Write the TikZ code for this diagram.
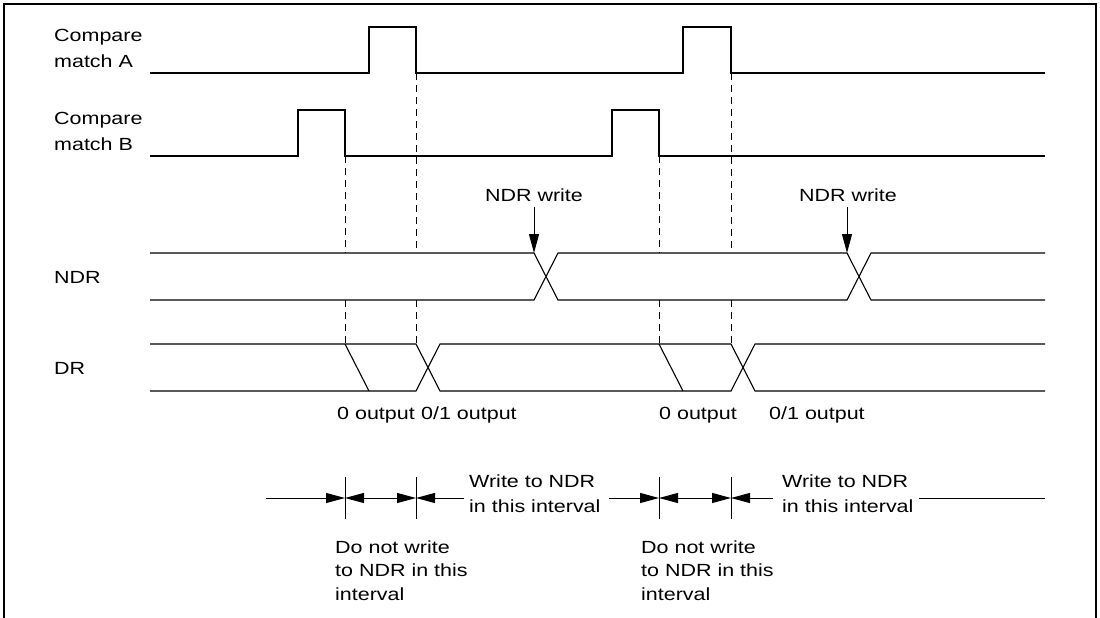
\documentclass[tikz,border=0pt]{standalone}
\usepackage{fontspec}
\setmainfont{Liberation Sans}[FakeStretch=1.22]
\usetikzlibrary{arrows.meta}
\begin{document}
\begin{tikzpicture}[x=1pt,y=-1pt,
  sig/.style={line width=1.1pt, line join=miter},
  dashln/.style={line width=1pt, dash pattern=on 7pt off 5pt},
  lbl/.style={font=\fontsize{17.6}{26}\selectfont, inner sep=0pt, align=left},
  tip/.style={-{Triangle[length=19pt,width=10pt]}, line width=1pt},
  both/.style={{Triangle[length=19pt,width=10pt]}-{Triangle[length=19pt,width=10pt]}, line width=1pt},
  tick/.style={line width=1pt}]
\useasboundingbox (0,0) rectangle (1100,618);
% frame
\draw[line width=2pt] (4,625) -- (4,4) -- (1096,4) -- (1096,625);
% labels (base anchor = baseline of last line)
\node[lbl,anchor=base west] (lA) at (54,67) {Compare\\match A};
\node[lbl,anchor=base west] (lB) at (54,150) {Compare\\match B};
\node[lbl,anchor=base west] (lN) at (54,283) {NDR};
\node[lbl,anchor=base west] (lD) at (54,374) {DR};
% compare match A
\draw[sig] (150,73) -- (369,73) -- (369,27) -- (416,27) -- (416,73) -- (683,73) -- (683,27) -- (731,27) -- (731,73) -- (1045,73);
% compare match B
\draw[sig] (150,156) -- (298,156) -- (298,110) -- (345,110) -- (345,156) -- (612,156) -- (612,110) -- (659,110) -- (659,156) -- (1045,156);
% NDR
\draw[sig] (150,253) -- (534,253) -- (558,300) -- (847,300) -- (871,253) -- (1045,253);
\draw[sig] (150,300) -- (534,300) -- (558,253) -- (847,253) -- (871,300) -- (1045,300);
% DR
\draw[sig] (150,344) -- (416,344) -- (440,391) -- (731,391) -- (755,344) -- (1045,344);
\draw[sig] (150,391) -- (416,391) -- (440,344) -- (731,344) -- (755,391) -- (1045,391);
\draw[sig] (345,344) -- (369,391);
\draw[sig] (659,344) -- (683,391);
% dashed guides
\foreach \x/\y in {345/156,416/73,659/156,731/73}{
  \draw[dashln] (\x,\y) -- (\x,253);
  \draw[dashln] (\x,300) -- (\x,344);
}
% NDR write
\node[lbl,anchor=base] (nw1) at (534,201) {NDR write};
\node[lbl,anchor=base] (nw2) at (848,201) {NDR write};
\coordinate (n1) at (534,253);
\coordinate (n2) at (847,253);
\draw[tip] (nw1.south -| n1) ++(0,6) -- (n1);
\draw[tip] (nw2.south -| n2) ++(0,6) -- (n2);
% output labels
\node[lbl,anchor=base west] (o1) at (337,419) {0 output};
\node[lbl,anchor=base west] (o2) at (421,419) {0/1 output};
\node[lbl,anchor=base west] (o3) at (659,419) {0 output};
\node[lbl,anchor=base west] (o4) at (769,419) {0/1 output};
% interval row
\coordinate (s0) at (266,498);
\coordinate (t1) at (345,498);
\coordinate (t2) at (416,498);
\coordinate (e1) at (464,498);
\coordinate (s1) at (609,498);
\coordinate (t3) at (659,498);
\coordinate (t4) at (731,498);
\coordinate (e2) at (773,498);
\coordinate (s2) at (919,498);
\coordinate (s3) at (1045,498);
\foreach \t in {t1,t2,t3,t4}{
  \draw[tick] (\t) ++(0,-21) -- ++(0,42);
}
\draw[tip] (s0) -- (t1);
\draw[both] (t1) -- (t2);
\draw[tip] (e1) -- (t2);
\draw[tip] (s1) -- (t3);
\draw[both] (t3) -- (t4);
\draw[tip] (e2) -- (t4);
\draw[line width=1pt] (s2) -- (s3);
\node[lbl,font=\fontsize{17.6}{24.5}\selectfont,anchor=base west] (w1) at (469,512) {Write to NDR\\in this interval};
\node[lbl,font=\fontsize{17.6}{24.5}\selectfont,anchor=base west] (w2) at (782,512) {Write to NDR\\in this interval};
\node[lbl,font=\fontsize{17.6}{23.5}\selectfont,anchor=base west] (d1) at (335,600) {Do not write\\to NDR in this\\interval};
\node[lbl,font=\fontsize{17.6}{23.5}\selectfont,anchor=base west] (d2) at (641,600) {Do not write\\to NDR in this\\interval};
\end{tikzpicture}
\end{document}
